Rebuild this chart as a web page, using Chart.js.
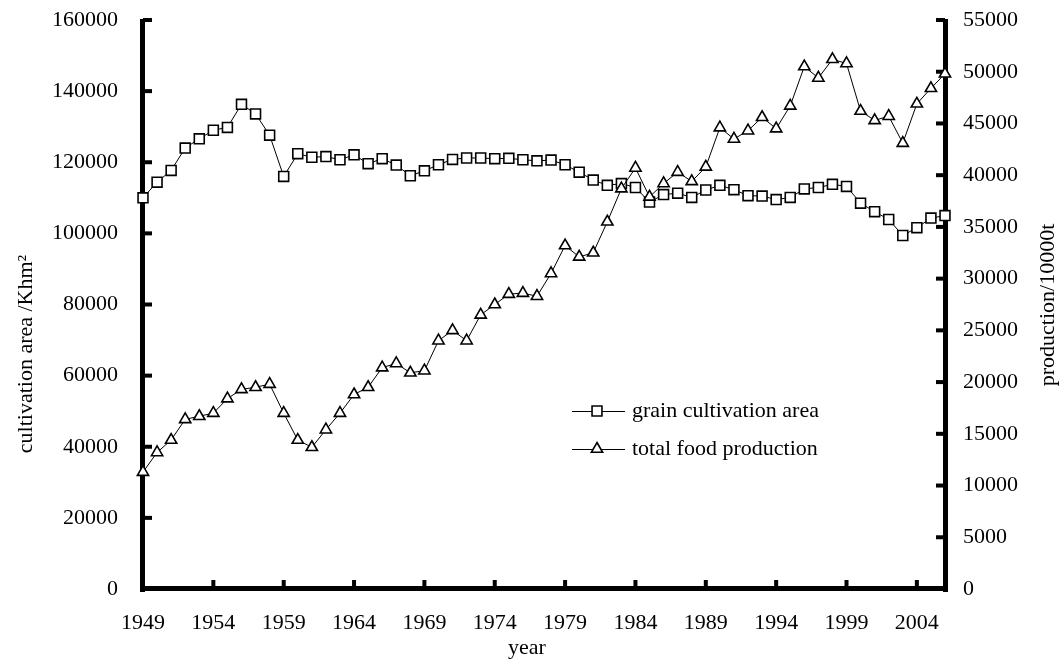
<!DOCTYPE html>
<html>
<head>
<meta charset="utf-8">
<title>grain cultivation area and total food production</title>
<script src="https://cdn.jsdelivr.net/npm/chart.js@4"></script>
<style>
  html, body { margin: 0; padding: 0; background: #fff; }
  #wrap { width: 1060px; height: 661px; }
</style>
</head>
<body>
<div id="wrap"><canvas id="myChart"></canvas></div>
<script>
// values
const years = [1949, 1950, 1951, 1952, 1953, 1954, 1955, 1956, 1957, 1958,
    1959, 1960, 1961, 1962, 1963, 1964, 1965, 1966, 1967, 1968,
    1969, 1970, 1971, 1972, 1973, 1974, 1975, 1976, 1977, 1978,
    1979, 1980, 1981, 1982, 1983, 1984, 1985, 1986, 1987, 1988,
    1989, 1990, 1991, 1992, 1993, 1994, 1995, 1996, 1997, 1998,
    1999, 2000, 2001, 2002, 2003, 2004, 2005, 2006];

// grain cultivation area, Khm2 (left axis)
const area = [110000, 114400, 117700, 124000, 126600, 129000, 129800, 136300, 133600, 127600,
    116000, 122400, 121400, 121600, 120700, 122100, 119600, 121000, 119200, 116200,
    117600, 119300, 120800, 121200, 121200, 121000, 121100, 120700, 120400, 120600,
    119300, 117200, 115000, 113500, 114000, 112900, 108800, 110900, 111300, 110100,
    112200, 113500, 112300, 110600, 110500, 109500, 110100, 112500, 112900, 113800,
    113200, 108500, 106100, 103900, 99400, 101600, 104300, 105000];

// total food production, 10000t (right axis)
const production = [11300, 13200, 14400, 16400, 16700, 17000, 18400, 19300, 19500, 19800,
    17000, 14400, 13700, 15400, 17000, 18800, 19500, 21400, 21800, 20900,
    21100, 24000, 25000, 24000, 26500, 27500, 28500, 28600, 28300, 30500,
    33200, 32100, 32500, 35500, 38700, 40700, 37900, 39200, 40300, 39400,
    40800, 44600, 43500, 44300, 45600, 44500, 46700, 50500, 49400, 51200,
    50800, 46200, 45300, 45700, 43100, 46900, 48400, 49800];

const xTickYears = [1949, 1954, 1959, 1964, 1969, 1974, 1979, 1984, 1989, 1994, 1999, 2004];
const seriesNames = ['grain cultivation area', 'total food production'];
const leftTitle = 'cultivation area /Khm\u00B2';
const rightTitle = 'production/10000t';
const xTitle = 'year';

const fontFamily = "'Liberation Serif', 'Times New Roman', serif";
const tickFont = { family: fontFamily, size: 22 };

// keep the label overhang from pushing the plot area around
function fixWidth(w) {
    return s => {
        s.width = w;
        s.paddingTop = 0;
        s.paddingBottom = 0;
    };
}

// thick black axes with inward ticks, titles and the legend inside the plot
const frame = {
    id: 'frame',
    beforeDatasetsDraw(chart) {
        const { ctx, chartArea: a, scales } = chart;
        ctx.save();
        ctx.fillStyle = '#000';
        ctx.fillRect(a.left - 3, a.top - 1, 5, a.bottom - a.top + 4);
        ctx.fillRect(a.right - 2, a.top - 1, 5, a.bottom - a.top + 4);
        ctx.fillRect(a.left - 3, a.bottom - 3, a.right - a.left + 6, 5);
        scales.y.ticks.forEach(t => {
            if (t.value === 0) return;
            const y = scales.y.getPixelForValue(t.value);
            ctx.fillRect(a.left, y - 2, 9, 4);
        });
        scales.y1.ticks.forEach(t => {
            if (t.value === 0) return;
            const y = scales.y1.getPixelForValue(t.value);
            ctx.fillRect(a.right - 9, y - 2, 9, 4);
        });
        xTickYears.forEach(v => {
            if (v === years[0]) return;
            const x = scales.x.getPixelForValue(v);
            ctx.fillRect(x - 2, a.bottom - 9, 4, 9);
        });
        ctx.restore();
    },
    afterDraw(chart) {
        const { ctx } = chart;
        ctx.save();
        ctx.fillStyle = '#000';
        ctx.font = '22px ' + fontFamily;
        ctx.textAlign = 'center';
        ctx.textBaseline = 'middle';

        ctx.save();
        ctx.translate(26, 354);
        ctx.rotate(-Math.PI / 2);
        ctx.fillText(leftTitle, 0, 0);
        ctx.restore();

        ctx.save();
        ctx.translate(1048, 305);
        ctx.rotate(-Math.PI / 2);
        ctx.fillText(rightTitle, 0, 0);
        ctx.restore();

        ctx.fillText(xTitle, 527, 648);

        // legend
        const rows = [411, 449];
        chart.data.datasets.forEach((ds, i) => {
            const y = rows[i];
            ctx.strokeStyle = '#000';
            ctx.lineWidth = 1;
            ctx.beginPath();
            ctx.moveTo(572, y + 0.5);
            ctx.lineTo(625, y + 0.5);
            ctx.stroke();
            ctx.fillStyle = '#fff';
            ctx.lineWidth = ds.pointBorderWidth;
            Chart.helpers.drawPoint(ctx, {
                pointStyle: ds.pointStyle,
                radius: ds.pointRadius,
                rotation: 0,
                borderWidth: ds.pointBorderWidth
            }, 597, y);
            ctx.fillStyle = '#000';
            ctx.textAlign = 'left';
            ctx.fillText(ds.label, 632, y);
        });
        ctx.restore();
    }
};

const ctx = document.getElementById('myChart').getContext('2d');

new Chart(ctx, {
    type: 'line',
    data: {
        datasets: [{
            label: seriesNames[0],
            data: years.map((yr, i) => ({ x: yr, y: area[i] })),
            yAxisID: 'y',
            borderColor: '#000',
            borderWidth: 1,
            pointStyle: 'rect',
            pointRadius: 7,
            pointBorderWidth: 1.6,
            pointBackgroundColor: '#fff',
            pointBorderColor: '#000',
            tension: 0,
            clip: false,
            order: 2
        }, {
            label: seriesNames[1],
            data: years.map((yr, i) => ({ x: yr, y: production[i] })),
            yAxisID: 'y1',
            borderColor: '#000',
            borderWidth: 1,
            pointStyle: 'triangle',
            pointRadius: 6.5,
            pointBorderWidth: 1.6,
            pointBackgroundColor: '#fff',
            pointBorderColor: '#000',
            tension: 0,
            clip: false,
            order: 1
        }]
    },
    options: {
        responsive: true,
        maintainAspectRatio: false,
        devicePixelRatio: 1,
        animation: false,
        layout: { padding: { top: 20, left: 0, right: 0, bottom: 0 } },
        plugins: {
            legend: { display: false },
            tooltip: { enabled: false }
        },
        scales: {
            x: {
                type: 'linear',
                position: 'bottom',
                min: years[0],
                max: years[years.length - 1],
                afterBuildTicks: s => { s.ticks = xTickYears.map(v => ({ value: v })); },
                afterFit: s => {
                    s.height = 72;
                    s.paddingLeft = 0;
                    s.paddingRight = 0;
                },
                grid: { display: false, drawTicks: false },
                border: { display: false },
                ticks: {
                    color: '#000',
                    font: tickFont,
                    padding: 21,
                    autoSkip: false,
                    maxRotation: 0,
                    callback: v => String(v)
                }
            },
            y: {
                position: 'left',
                min: 0,
                max: 160000,
                afterFit: fixWidth(143),
                grid: { display: false, drawTicks: false },
                border: { display: false },
                ticks: {
                    stepSize: 20000,
                    color: '#000',
                    font: tickFont,
                    padding: 25,
                    callback: v => String(v)
                }
            },
            y1: {
                position: 'right',
                min: 0,
                max: 55000,
                afterFit: fixWidth(115),
                grid: { display: false, drawTicks: false },
                border: { display: false },
                ticks: {
                    stepSize: 5000,
                    color: '#000',
                    font: tickFont,
                    padding: 18,
                    callback: v => String(v)
                }
            }
        }
    },
    plugins: [frame]
});
</script>
</body>
</html>
